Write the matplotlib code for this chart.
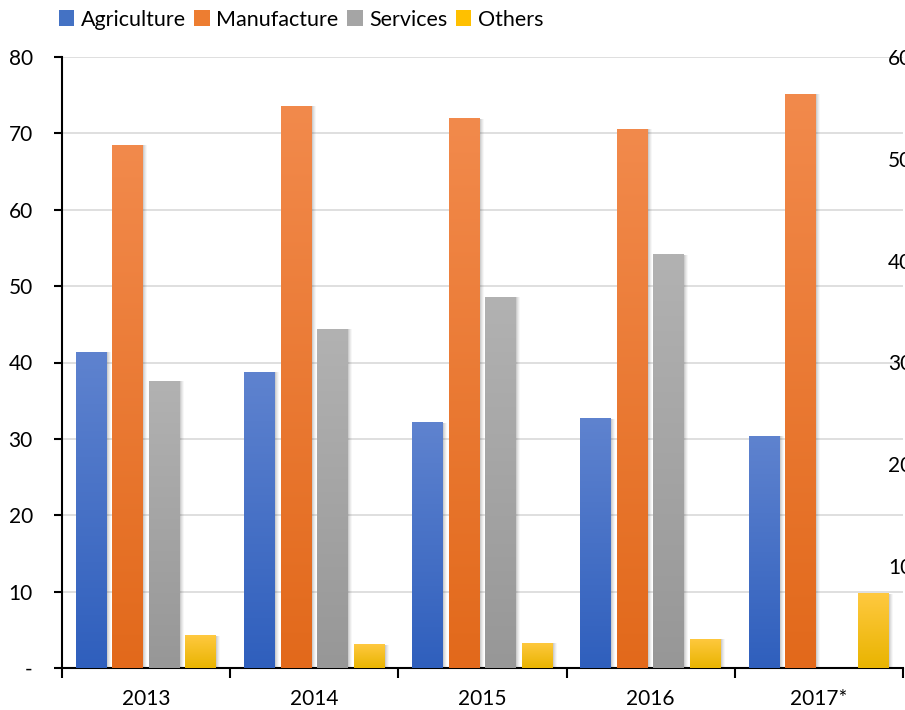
import numpy as np
import matplotlib
matplotlib.use('Agg')
import matplotlib.pyplot as plt
from matplotlib.colors import LinearSegmentedColormap
from matplotlib.patches import Rectangle
import matplotlib.transforms as mtransforms

plt.rcParams['font.family'] = ['Lato', 'DejaVu Sans']

# ── Data ─────────────────────────────────────────────────────
years = ["2013", "2014", "2015", "2016", "2017*"]
agriculture = [41.4, 38.8, 32.2, 32.7, 30.4]
manufacture = [68.5, 73.6, 72.0, 70.6, 75.2]
services = [37.6, 44.4, 48.6, 54.2, np.nan]
others = [4.3, 3.1, 3.3, 3.8, 9.8]

series = [
    ("Agriculture", agriculture, "#5F83CF", "#2F5FBD", "#4472C4"),
    ("Manufacture", manufacture, "#F28A4C", "#E2691B", "#ED7D31"),
    ("Services",    services,    "#B2B2B2", "#979797", "#A5A5A5"),
    ("Others",      others,      "#FFC940", "#E9B400", "#FFC000"),
]

# ── Figure ───────────────────────────────────────────────────
W, H = 905, 710
fig = plt.figure(figsize=(W / 100, H / 100), dpi=100)
ax = fig.add_axes([62 / W, (H - 668) / H, (903 - 62) / W, (668 - 57) / H])

x = np.arange(len(years))
step = 0.217
width = 0.184
offsets = (np.arange(4) - 1.5) * step


def gradient_fill(ax, patch, top, bottom):
    """Vertical gradient inside a bar patch, plus a soft drop shadow."""
    bx, by = patch.get_x(), patch.get_y()
    bw, bh = patch.get_width(), patch.get_height()
    if not np.isfinite(bh) or bh <= 0:
        return
    # soft shadow, a few stacked translucent rectangles shifted right
    for i, a in enumerate([0.10, 0.08, 0.06, 0.04]):
        tr = mtransforms.offset_copy(ax.transData, fig=fig, x=1 + i, y=-0.5, units='dots')
        ax.add_patch(Rectangle((bx, by), bw, bh, facecolor='#404040', alpha=a,
                               edgecolor='none', transform=tr, zorder=2))
    cmap = LinearSegmentedColormap.from_list('g', [bottom, top])
    grad = np.linspace(0, 1, 256).reshape(-1, 1)
    im = ax.imshow(grad, extent=[bx, bx + bw, by, by + bh], origin='lower',
                   cmap=cmap, aspect='auto', zorder=3, interpolation='bilinear')
    im.set_clip_path(patch)
    patch.set_facecolor('none')


for k, (name, vals, top, bottom, mid) in enumerate(series):
    bars = ax.bar(x + offsets[k], vals, width, color=mid, label=name, zorder=3,
                  linewidth=0)
    for p in bars:
        gradient_fill(ax, p, top, bottom)

ax.set_xlim(-0.5, len(years) - 0.5)
ax.set_ylim(0, 80)

# ── Axes styling ─────────────────────────────────────────────
ax.set_yticks(np.arange(0, 81, 10))
ax.set_yticklabels(["-"] + [str(v) for v in range(10, 81, 10)])
ax.yaxis.grid(True, color='#D9D9D9', linewidth=1.2, zorder=0)
ax.set_axisbelow(True)
ax.tick_params(axis='y', length=6, width=1.5, direction='out', pad=15,
               labelsize=15, colors='black')

ax.set_xticks(x)
ax.set_xticklabels(years)
ax.set_xticks(np.arange(-0.5, len(years)), minor=True)
ax.tick_params(axis='x', which='major', length=0, pad=15, labelsize=15)
ax.tick_params(axis='x', which='minor', length=7, width=1.5, direction='out')

for s in ['top', 'right']:
    ax.spines[s].set_visible(False)
for s in ['left', 'bottom']:
    ax.spines[s].set_linewidth(1.5)
    ax.spines[s].set_color('black')

# secondary scale on the right edge
ax2 = ax.twinx()
ax2.set_ylim(0, 60)
ax2.set_yticks(np.arange(10, 61, 10))
ax2.tick_params(axis='y', length=0, pad=-10.8, labelsize=15)
for s in ax2.spines.values():
    s.set_visible(False)

# ── Legend ───────────────────────────────────────────────────
handles = [Rectangle((0, 0), 1, 1, facecolor=mid) for _, _, _, _, mid in series]
fig.legend(handles, [s[0] for s in series], loc='upper left',
           bbox_to_anchor=(50 / W, 1 - 1 / H), ncol=4, frameon=False,
           fontsize=15.5, handlelength=0.72, handleheight=0.72,
           handletextpad=0.3, columnspacing=0.4, borderaxespad=0)

fig.savefig("out.png", dpi=100)
